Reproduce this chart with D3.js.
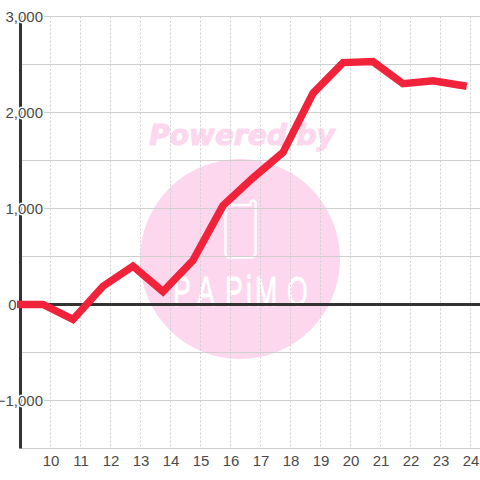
<!DOCTYPE html>
<html><head><meta charset="utf-8">
<script src="https://cdn.jsdelivr.net/npm/d3@7"></script>
<style>html,body{margin:0;padding:0;background:#fff}svg{display:block}</style>
</head><body><div id="c"></div>
<script>
const hourTicks = [10,11,12,13,14,15,16,17,18,19,20,21,22,23,24];
const valueTicks = [3000,2000,1000,0,-1000];
const minorValues = [2500,1500,500,-500,-1500];
const hours = [8.75,9.75,10.75,11.75,12.75,13.75,14.75,15.75,16.75,17.75,18.75,19.75,20.75,21.75,22.75,23.75];
const values = [0,0,-156,190,400,135,460,1030,1320,1585,2200,2520,2530,2300,2330,2280];

const W=480,H=480;
const x=d3.scaleLinear().domain([9,24]).range([20.5,470.5]);
const y=d3.scaleLinear().domain([3000,-1500]).range([16.5,448.5]);
const svg=d3.select('#c').append('svg').attr('width',W).attr('height',H);
const font='"Liberation Sans",Arial,sans-serif';
const pink='#fcd7ed';
const grid='#cfcfcf';

// watermark
const wm=svg.append('g');
wm.append('circle').attr('cx',240).attr('cy',259).attr('r',100).attr('fill',pink);
wm.append('text').attr('x',242).attr('y',145).attr('text-anchor','middle')
  .attr('font-family','"DejaVu Sans"').attr('font-weight','bold').attr('font-style','italic')
  .attr('font-size',28).attr('fill',pink).attr('stroke',pink).attr('stroke-width',1).text('Powered by');
wm.append('path')
  .attr('d','M225.5 209 Q225.5 205 229.5 205 L250.5 205 L250.5 202 Q253 199 255.5 202 L255.5 253 Q255.5 257.5 251 257.5 L230 257.5 Q225.5 257.5 225.5 253 Z')
  .attr('fill','none').attr('stroke','#fff').attr('stroke-width',2.4);
const sx=0.62;
wm.append('text').attr('transform',`scale(${sx},1)`)
  .attr('x',[173,197,225,246,255,287].map(v=>v/sx).join(' ')).attr('y',306)
  .attr('font-family','"Liberation Sans Narrow","Liberation Sans"').attr('font-size',43).attr('fill','#fff')
  .attr('stroke','#fff').attr('stroke-width',0.8)
  .text('PAPiMO');

// grid
svg.append('g').selectAll('line').data(valueTicks.concat(minorValues)).join('line')
  .attr('x1',20).attr('x2',W).attr('y1',d=>y(d)).attr('y2',d=>y(d))
  .attr('stroke',grid).attr('stroke-width',1);
svg.append('g').selectAll('line').data(hourTicks).join('line')
  .attr('x1',d=>x(d)).attr('x2',d=>x(d)).attr('y1',y(3000)).attr('y2',y(-1500))
  .attr('stroke',grid).attr('stroke-width',1).attr('stroke-dasharray','2,2');

// axes
svg.append('line').attr('x1',20.5).attr('x2',20.5).attr('y1',y(3000)).attr('y2',y(-1500))
  .attr('stroke','#333').attr('stroke-width',3);
svg.append('line').attr('x1',20).attr('x2',W).attr('y1',y(0)).attr('y2',y(0))
  .attr('stroke','#333').attr('stroke-width',3);

// labels
svg.append('g').selectAll('text').data(valueTicks).join('text')
  .attr('x',d=>d===0?16.5:43).attr('y',d=>y(d)+5).attr('text-anchor','end')
  .attr('font-family',font).attr('font-size',15).attr('fill','#4a4a4a')
  .attr('stroke','#fff').attr('stroke-width',d=>d===0?0:3).attr('paint-order','stroke')
  .text(d=>d3.format(',')(d));
svg.append('g').selectAll('text').data(hourTicks).join('text')
  .attr('x',d=>x(d)+0.5).attr('y',466).attr('text-anchor','middle')
  .attr('font-family',font).attr('font-size',15).attr('fill','#4a4a4a').text(d=>d);

// series
svg.append('clipPath').attr('id','pl').append('rect').attr('x',17).attr('y',0).attr('width',463).attr('height',H);
svg.append('path').attr('clip-path','url(#pl)')
  .attr('d',d3.line().x((d,i)=>x(hours[i])).y(d=>y(d))(values))
  .attr('fill','none').attr('stroke','#f0233a').attr('stroke-width',7.5)
  .attr('stroke-linejoin','miter').attr('stroke-linecap','square');
</script></body></html>
